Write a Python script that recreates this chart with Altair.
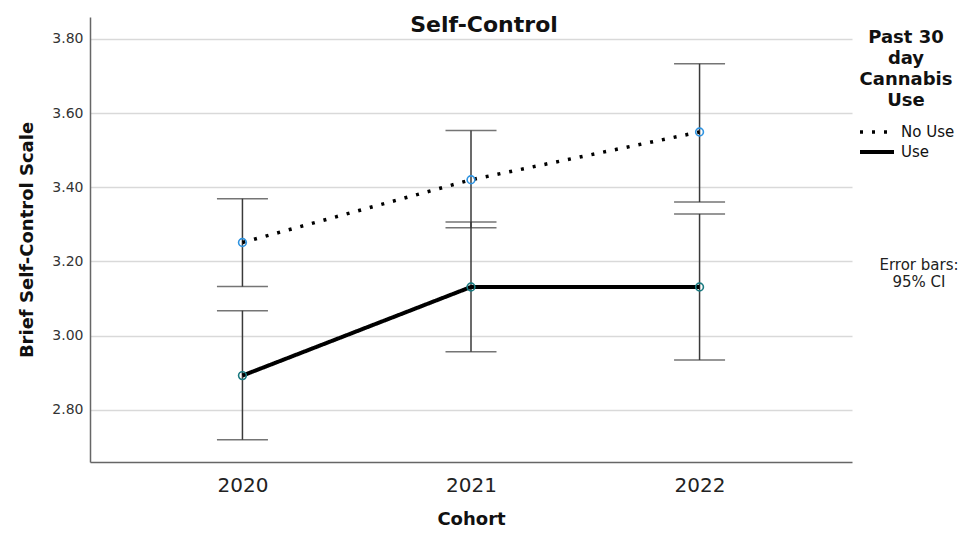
import altair as alt
import pandas as pd

cohorts = ["2020", "2021", "2022"]
groups = ["No Use", "Use"]
no_use_mean = [3.251, 3.420, 3.549]
no_use_lo = [3.132, 3.291, 3.360]
no_use_hi = [3.369, 3.553, 3.733]
use_mean = [2.892, 3.131, 3.131]
use_lo = [2.719, 2.956, 2.934]
use_hi = [3.067, 3.306, 3.328]
y_ticks = [2.8, 3.0, 3.2, 3.4, 3.6, 3.8]
note_text = "Error bars:\n95% CI"
legend_title = ["Past 30", "day", "Cannabis", "Use"]

rows = []
for g, m, lo, hi in [("No Use", no_use_mean, no_use_lo, no_use_hi),
                     ("Use", use_mean, use_lo, use_hi)]:
    for c, mm, l, h in zip(cohorts, m, lo, hi):
        rows.append({"cohort": c, "group": g, "mean": mm, "lo": l, "hi": h})
df = pd.DataFrame(rows)

FONT = "DejaVu Sans"
W, H = 762, 445

x = alt.X("cohort:O", title="Cohort",
          scale=alt.Scale(type="point", padding=0.667),
          axis=alt.Axis(labelAngle=0, labelFontSize=20, labelPadding=13,
                        titleFontSize=18, titleFontWeight="bold", titlePadding=15,
                        ticks=False, domainColor="#666666", domainWidth=1.5,
                        labelColor="#222222", titleColor="#111111"))
yscale = alt.Scale(domain=[2.659, 3.859], nice=False, zero=False)
yaxis = alt.Axis(values=y_ticks, format=".2f", labelFontSize=14, labelPadding=7,
                 titleFontSize=18, titleFontWeight="bold", titlePadding=15,
                 ticks=False, domainColor="#666666", domainWidth=1.5,
                 gridColor="#d9d9d9", gridWidth=1.5, labelColor="#333333",
                 titleColor="#111111")

base = alt.Chart(df)

rules = base.mark_rule(color="#3a3a3a", strokeWidth=1.5).encode(
    x=x, y=alt.Y("lo:Q", scale=yscale, axis=yaxis, title="Brief Self-Control Scale"),
    y2="hi:Q")
cap_lo = base.mark_tick(color="#3a3a3a", thickness=1.5, size=51).encode(
    x=x, y=alt.Y("lo:Q", scale=yscale))
cap_hi = base.mark_tick(color="#3a3a3a", thickness=1.5, size=51).encode(
    x=x, y=alt.Y("hi:Q", scale=yscale))

legend = alt.Legend(orient="none", legendX=768, legendY=12,
                    titleFontSize=18, titleFontWeight="bold", titleLineHeight=21,
                    titleAlign="center", titleAnchor="middle", titleColor="#111111",
                    titlePadding=10, labelFontSize=15, labelColor="#111111",
                    labelOffset=19, symbolType="M-1,0H2.4", symbolSize=400,
                    symbolStrokeColor="black", rowPadding=0,
                    labelExpr="datum.label == 'No Use' ? '\u2002\u2002No Use' : datum.label")

lines = base.mark_line(color="black", strokeCap="butt").encode(
    x=x, y=alt.Y("mean:Q", scale=yscale),
    strokeDash=alt.StrokeDash("group:N", title=legend_title,
                              scale=alt.Scale(domain=groups, range=[[3, 9], [1, 0]]),
                              legend=legend),
    strokeWidth=alt.StrokeWidth("group:N", title=legend_title,
                                scale=alt.Scale(domain=groups, range=[3.5, 4]),
                                legend=legend),
    detail="group:N")

pts_no = base.transform_filter(alt.datum.group == "No Use").mark_point(
    filled=False, size=60, strokeWidth=1.6, opacity=1, color="#2f93e0").encode(
    x=x, y=alt.Y("mean:Q", scale=yscale))
pts_use = base.transform_filter(alt.datum.group == "Use").mark_point(
    filled=False, size=60, strokeWidth=1.6, opacity=1, color="#1a7a80").encode(
    x=x, y=alt.Y("mean:Q", scale=yscale))

note = alt.Chart(pd.DataFrame({"t": [note_text]})).mark_text(
    fontSize=15, color="#222222", lineBreak="\n", align="center", baseline="middle",
    lineHeight=17).encode(text="t:N", x=alt.value(829), y=alt.value(248))

chart = alt.layer(rules, cap_lo, cap_hi, lines, pts_no, pts_use, note).properties(
    width=W, height=H,
    title=alt.Title("Self-Control", fontSize=22, fontWeight="bold", anchor="middle",
                    dx=13, dy=24, color="#111111", font=FONT),
    padding={"left": 82, "top": 9, "right": 106, "bottom": 70},
    autosize=alt.AutoSizeParams(type="none"),
).configure(font=FONT).configure_view(stroke=None).configure_axis(
    labelFont=FONT, titleFont=FONT).configure_legend(labelFont=FONT, titleFont=FONT)

chart.save("out.html", embed_options={"renderer": "svg", "actions": False})
